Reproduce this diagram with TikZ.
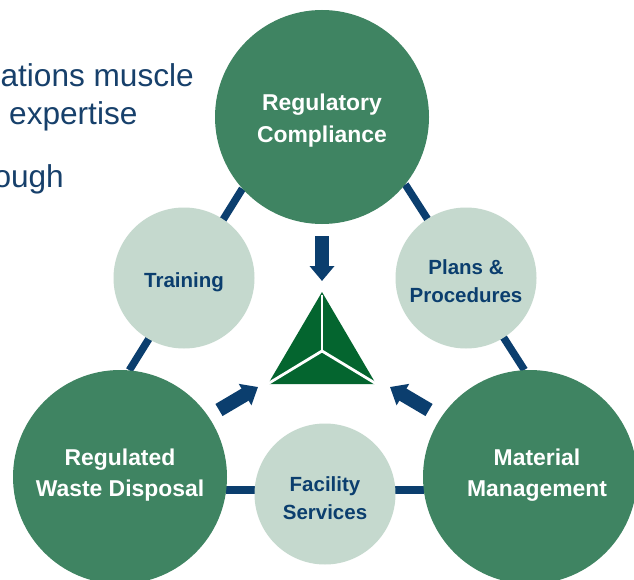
\documentclass[tikz,border=0pt]{standalone}
\usepackage{fontspec}
\setmainfont{Liberation Sans}
\usetikzlibrary{arrows.meta,backgrounds}
\definecolor{biggreen}{HTML}{3F8462}
\definecolor{palegreen}{HTML}{C5D9CE}
\definecolor{navy}{HTML}{0B3E6E}
\definecolor{bodyblue}{HTML}{17406B}
\definecolor{trigreen}{HTML}{04652F}
\tikzset{
  bigcircle/.style={circle,fill=biggreen,draw=none,minimum size=214pt,inner sep=0pt},
  smallcircle/.style={circle,fill=palegreen,draw=none,minimum size=141pt,inner sep=0pt},
  bigtext/.style={align=center,inner sep=0pt,text=white,font=\fontsize{22.9}{31.5}\selectfont\bfseries},
  smalltext/.style={align=center,inner sep=0pt,text=navy,font=\fontsize{20.5}{28}\selectfont\bfseries},
  link/.style={draw=navy,line width=7.5pt},
  flow/.style={draw=navy,line width=14pt,-{Triangle[width=24pt,length=15pt]}},
  bodytext/.style={text=bodyblue,font=\fontsize{31.6}{36}\selectfont,inner sep=0pt,anchor=base},
  tri/.style={fill=trigreen,draw=none},
  cut/.style={draw=white,line width=2.8pt}
}
\begin{document}
\begin{tikzpicture}[x=1pt,y=-1pt]
\useasboundingbox (0,0) rectangle (634,580);
\clip (0,0) rectangle (634,580);
% top-left text, cut off by the picture's edge
\node[bodytext,anchor=base east] (t1) at (194,87) {ations muscle};
\node[bodytext,anchor=base west] (t2) at (9,125) {expertise};
\node[bodytext,anchor=base east] (t3) at (64,188) {ough};
% circles
\node[bigcircle,label={[bigtext,yshift=-3.5pt]center:{Regulatory\\Compliance}}] (reg) at (322,117) {};
\node[bigcircle,label={[bigtext,yshift=2pt]center:{Regulated\\Waste Disposal}}] (waste) at (120,477) {};
\node[bigcircle,label={[bigtext,xshift=7pt,yshift=2pt]center:{Material\\Management}}] (mat) at (530,477) {};
\node[smallcircle,label={[smalltext,yshift=-4pt]center:{Training}}] (train) at (184,278) {};
\node[smallcircle,label={[smalltext,yshift=-3pt]center:{Plans \&\\Procedures}}] (plans) at (466,278) {};
\node[smallcircle,label={[smalltext,yshift=-4pt]center:{Facility\\Services}}] (fac) at (325,494) {};
% connectors behind the circles
\begin{scope}[on background layer]
\fill[white] (0,0) rectangle (634,580);
\draw[link] (reg.-138) -- (waste.85);
\draw[link] (reg.-39) -- (mat.93);
\draw[link] (waste.-7) -- (mat.-173);
\end{scope}
% centre triangle
\coordinate (apex) at (322,292);
\coordinate (bl) at (268,384);
\coordinate (br) at (376,384);
\coordinate (mid) at (322,351);
\fill[tri] (apex) -- (br) -- (bl) -- cycle;
\draw[cut] (mid) -- ([yshift=-3pt]apex);
\draw[cut] (mid) -- ([shift={(-3pt,-1.5pt)}]bl);
\draw[cut] (mid) -- ([shift={(3pt,-1.5pt)}]br);
% arrows towards the triangle
\coordinate (a1s) at (322,236);
\coordinate (a1e) at (322,281);
\coordinate (a2s) at (219,410);
\coordinate (a2e) at (258,387);
\coordinate (a3s) at (429,410);
\coordinate (a3e) at (390,387);
\draw[flow] (a1s) -- (a1e);
\draw[flow] (a2s) -- (a2e);
\draw[flow] (a3s) -- (a3e);
\end{tikzpicture}
\end{document}
